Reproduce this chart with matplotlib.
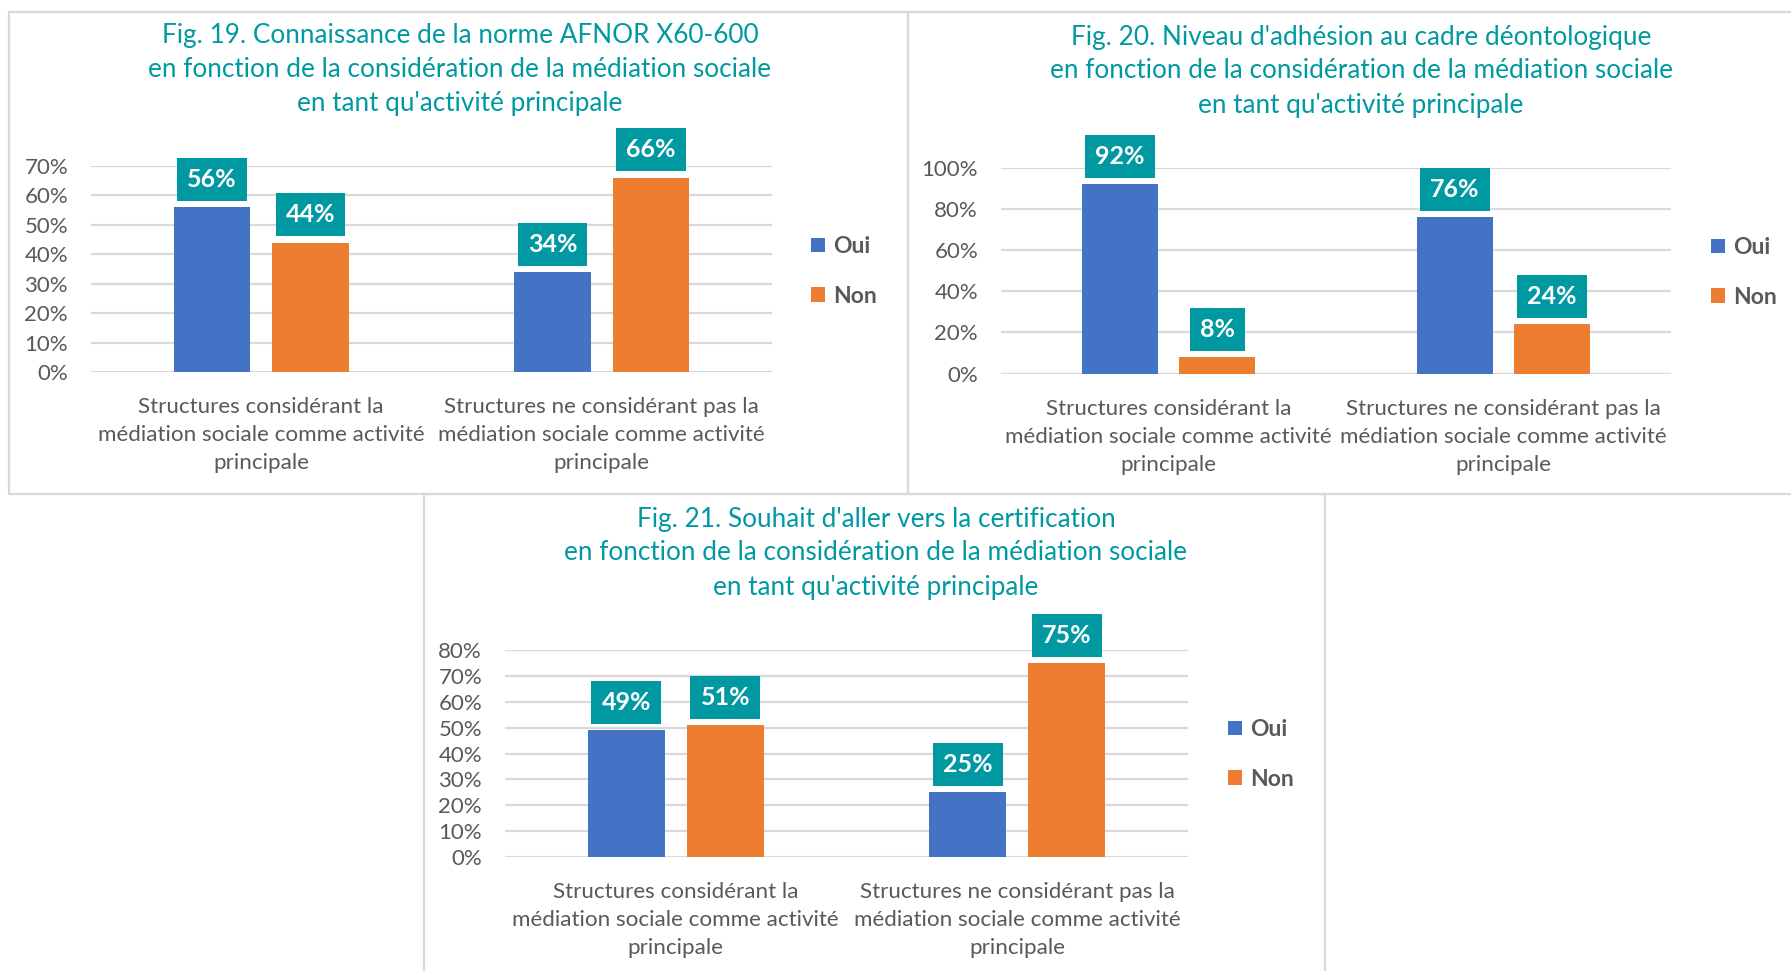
import matplotlib
matplotlib.use("Agg")
import matplotlib.pyplot as plt
from matplotlib.patches import Rectangle
import numpy as np

W, H = 1791, 971
TEAL = "#0098A1"
GREY = "#595959"
GRID = "#D9D9D9"
BLUE = "#4472C4"
ORANGE = "#ED7D31"

plt.rcParams["font.family"] = ["Lato", "DejaVu Sans"]

categories = ["Structures considérant la\nmédiation sociale comme activité\nprincipale",
              "Structures ne considérant pas la\nmédiation sociale comme activité\nprincipale"]
series = ["Oui", "Non"]

fig19_title = "Fig. 19. Connaissance de la norme AFNOR X60-600\nen fonction de la considération de la médiation sociale\nen tant qu'activité principale"
fig19_oui = [0.56, 0.34]
fig19_non = [0.44, 0.66]
fig19_ticks = [0, 0.1, 0.2, 0.3, 0.4, 0.5, 0.6, 0.7]

fig20_title = "Fig. 20. Niveau d'adhésion au cadre déontologique\nen fonction de la considération de la médiation sociale\nen tant qu'activité principale"
fig20_oui = [0.92, 0.76]
fig20_non = [0.08, 0.24]
fig20_ticks = [0, 0.2, 0.4, 0.6, 0.8, 1.0]

fig21_title = "Fig. 21. Souhait d'aller vers la certification\nen fonction de la considération de la médiation sociale\nen tant qu'activité principale"
fig21_oui = [0.49, 0.25]
fig21_non = [0.51, 0.75]
fig21_ticks = [0, 0.1, 0.2, 0.3, 0.4, 0.5, 0.6, 0.7, 0.8]

fig = plt.figure(figsize=(W / 100, H / 100), dpi=100)


def px_rect(x0, x1, ytop, ybot):
    return [x0 / W, 1 - ybot / H, (x1 - x0) / W, (ybot - ytop) / H]


def frame(x0, x1, ytop, ybot):
    fig.add_artist(Rectangle((x0 / W, 1 - ybot / H), (x1 - x0) / W, (ybot - ytop) / H,
                             transform=fig.transFigure, fill=False, ec=GRID, lw=1.6))


def panel(box, title, title_xy, oui, non, ticks, legend_xy):
    ax = fig.add_axes(px_rect(*box))
    x = np.arange(len(categories))
    w, off = 0.225, 0.145
    b1 = ax.bar(x - off, oui, w, color=BLUE, label=series[0], zorder=3)
    b2 = ax.bar(x + off, non, w, color=ORANGE, label=series[1], zorder=3)
    for bars in (b1, b2):
        for r in bars:
            v = r.get_height()
            ax.annotate(f"{v:.0%}", (r.get_x() + r.get_width() / 2, v),
                        xytext=(0, 20), textcoords="offset points",
                        ha="center", va="center", color="white",
                        fontsize=18, fontweight="bold", zorder=5,
                        bbox=dict(boxstyle="square,pad=0.4", fc=TEAL, ec="none"))
    ax.set_xlim(-0.5, 1.5)
    ax.set_ylim(0, ticks[-1])
    ax.set_yticks(ticks)
    ax.set_yticklabels([f"{t:.0%}" for t in ticks])
    ax.set_xticks(x)
    ax.set_xticklabels(categories, linespacing=1.5)
    ax.tick_params(axis="y", length=0, pad=16.5, labelsize=16, labelcolor=GREY)
    ax.tick_params(axis="x", length=0, pad=18, labelsize=16.1, labelcolor=GREY)
    ax.grid(axis="y", color=GRID, lw=1.6, zorder=0)
    ax.set_axisbelow(True)
    for s in ax.spines.values():
        s.set_visible(False)
    fig.text(title_xy[0] / W, 1 - title_xy[1] / H, title, ha="center", va="center",
             color=TEAL, fontsize=18.8, linespacing=1.45)
    ax.legend(loc="center left", bbox_to_anchor=(legend_xy[0] / W, 1 - legend_xy[1] / H),
              bbox_transform=fig.transFigure, frameon=False, handlelength=0.6,
              handleheight=0.6, handletextpad=0.35, labelspacing=1.25,
              borderpad=0, borderaxespad=0,
              prop={"weight": "bold", "size": 16.5}, labelcolor=GREY)
    return ax


frame(9, 908, 12, 494)
frame(908, 1800, 12, 494)
frame(424, 1325, 494, 990)

panel((91, 772, 166, 372), fig19_title, (460, 69.5), fig19_oui, fig19_non, fig19_ticks, (811, 271.5))
panel((1001, 1671, 168, 373.5), fig20_title, (1361, 71), fig20_oui, fig20_non, fig20_ticks, (1711, 272.5))
panel((505, 1188, 650, 857), fig21_title, (876, 553), fig21_oui, fig21_non, fig21_ticks, (1228, 754.5))

fig.savefig("out.png", dpi=100, facecolor="white")
